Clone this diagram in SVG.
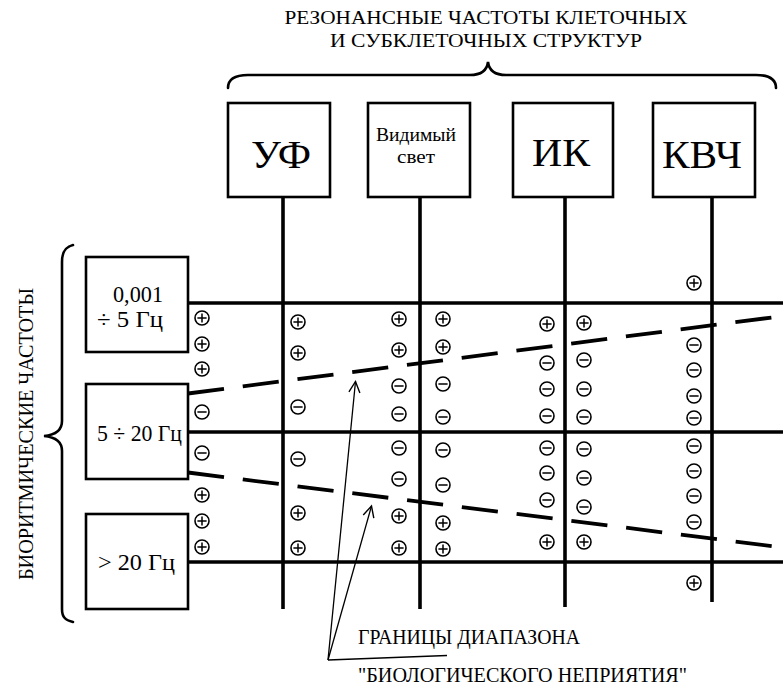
<svg xmlns="http://www.w3.org/2000/svg" xmlns:xlink="http://www.w3.org/1999/xlink" width="783" height="686" viewBox="0 0 783 686">
  <style>
    .txt { font-family: "Liberation Serif", "DejaVu Serif", "Times New Roman", serif; fill: #000; }
    .box { fill: #fff; stroke: #000; stroke-width: 2.6; }
    .brace { fill: none; stroke: #000; stroke-width: 2.6; stroke-linecap: round; }
    .grid { stroke: #000; stroke-width: 3.6; fill: none; }
    .dash { stroke: #000; stroke-width: 3.8; fill: none; stroke-dasharray: 36.3 18.9; }
    .ptr { stroke: #000; stroke-width: 1.3; fill: none; }
    .sym circle { fill: #fff; stroke: #000; stroke-width: 1.6; }
    .sym line { stroke: #000; stroke-width: 1.5; }
  </style>
  <defs>
    <g id="plus" class="sym">
      <circle cx="0" cy="0" r="7"/>
      <line x1="-4.6" y1="0" x2="4.6" y2="0"/>
      <line x1="0" y1="-4.6" x2="0" y2="4.6"/>
    </g>
    <g id="minus" class="sym">
      <circle cx="0" cy="0" r="7"/>
      <line x1="-4.6" y1="0" x2="4.6" y2="0"/>
    </g>
    <marker id="vhead" viewBox="-12 -7 14 14" markerWidth="14" markerHeight="14" refX="0" refY="0" orient="auto" markerUnits="userSpaceOnUse">
      <path d="M -11 -5.5 L 0 0 L -11 5.5" fill="none" stroke="#000" stroke-width="1.4"/>
    </marker>
  </defs>

  <rect width="783" height="686" fill="#fff"/>

  <!-- heading and its brace -->
  <g id="title-resonance">
    <text class="txt" x="486" y="24" font-size="19" text-anchor="middle" textLength="403" lengthAdjust="spacingAndGlyphs">РЕЗОНАНСНЫЕ ЧАСТОТЫ КЛЕТОЧНЫХ</text>
    <text class="txt" x="486" y="47" font-size="19" text-anchor="middle" textLength="312" lengthAdjust="spacingAndGlyphs">И СУБКЛЕТОЧНЫХ СТРУКТУР</text>
    <path class="brace" d="M 228 88 C 228 79, 235 75, 248 75 L 470 75 C 481 75, 487 70, 488 62 C 489 70, 495 75, 506 75 L 756 75 C 769 75, 776 79, 776 88"/>
  </g>

  <!-- side heading and its brace -->
  <g id="title-biorhythm">
    <text class="txt" font-size="20" text-anchor="middle" textLength="292" lengthAdjust="spacingAndGlyphs" transform="translate(33,434) rotate(-90)">БИОРИТМИЧЕСКИЕ ЧАСТОТЫ</text>
    <path class="brace" d="M 73 245 C 65 247, 62 252, 62 262 L 62 421 C 62 431, 55 435, 44 436 C 55 437, 62 441, 62 451 L 62 609 C 62 617, 65 620, 73 622"/>
  </g>

  <!-- grid lines, boundary lines and pointers -->
  <g id="connectors">
    <line class="grid" x1="188" y1="303" x2="783" y2="303"/>
    <line class="grid" x1="188" y1="432" x2="783" y2="432"/>
    <line class="grid" x1="188" y1="562" x2="783" y2="562"/>
    <line class="grid" x1="283" y1="197" x2="283" y2="609"/>
    <line class="grid" x1="420" y1="197" x2="420" y2="609"/>
    <line class="grid" x1="565" y1="197" x2="565" y2="607"/>
    <line class="grid" x1="712" y1="197" x2="712" y2="602"/>
    <line class="dash" x1="188" y1="393.5" x2="783" y2="316"/>
    <line class="dash" x1="188" y1="472.5" x2="783" y2="547.5"/>
    <line class="ptr" x1="328" y1="660" x2="355.5" y2="381.5" marker-end="url(#vhead)"/>
    <line class="ptr" x1="328" y1="660" x2="371.5" y2="506" marker-end="url(#vhead)"/>
    <line class="ptr" x1="328" y1="660" x2="447" y2="655.5"/>
  </g>

  <!-- spectral ranges -->
  <g id="node-uv">
    <rect class="box" x="228" y="103" width="102" height="94"/>
    <text class="txt" x="281" y="168" font-size="40" text-anchor="middle" textLength="60" lengthAdjust="spacingAndGlyphs">УФ</text>
  </g>
  <g id="node-visible">
    <rect class="box" x="368" y="103" width="102" height="94"/>
    <text class="txt" x="416" y="141" font-size="19" text-anchor="middle" textLength="80" lengthAdjust="spacingAndGlyphs">Видимый</text>
    <text class="txt" x="416" y="163" font-size="19" text-anchor="middle" textLength="38" lengthAdjust="spacingAndGlyphs">свет</text>
  </g>
  <g id="node-ir">
    <rect class="box" x="513" y="103" width="100" height="94"/>
    <text class="txt" x="561" y="166" font-size="40" text-anchor="middle" textLength="58" lengthAdjust="spacingAndGlyphs">ИК</text>
  </g>
  <g id="node-ehf">
    <rect class="box" x="653" y="103" width="102" height="94"/>
    <text class="txt" x="702" y="168" font-size="40" text-anchor="middle" textLength="80" lengthAdjust="spacingAndGlyphs">КВЧ</text>
  </g>

  <!-- frequency bands -->
  <g id="node-band-low">
    <rect class="box" x="86" y="257" width="102" height="95"/>
    <text class="txt" x="163" y="302" font-size="24" text-anchor="end" textLength="50" lengthAdjust="spacingAndGlyphs">0,001</text>
    <text class="txt" x="97" y="327" font-size="24" textLength="66" lengthAdjust="spacingAndGlyphs">÷ 5 Гц</text>
  </g>
  <g id="node-band-mid">
    <rect class="box" x="86" y="384" width="102" height="95"/>
    <text class="txt" x="97" y="441" font-size="24" textLength="85" lengthAdjust="spacingAndGlyphs">5 ÷ 20 Гц</text>
  </g>
  <g id="node-band-high">
    <rect class="box" x="86" y="514" width="102" height="95"/>
    <text class="txt" x="98" y="570" font-size="24" textLength="77" lengthAdjust="spacingAndGlyphs">&gt; 20 Гц</text>
  </g>

  <!-- response marks -->
  <g id="marks">
    <use xlink:href="#plus" x="202" y="318"/>
    <use xlink:href="#plus" x="202" y="344"/>
    <use xlink:href="#plus" x="202" y="369"/>
    <use xlink:href="#minus" x="202" y="412"/>
    <use xlink:href="#minus" x="202" y="453"/>
    <use xlink:href="#plus" x="202" y="495"/>
    <use xlink:href="#plus" x="202" y="521"/>
    <use xlink:href="#plus" x="202" y="547"/>

    <use xlink:href="#plus" x="298" y="322"/>
    <use xlink:href="#plus" x="298" y="353"/>
    <use xlink:href="#minus" x="298" y="407"/>
    <use xlink:href="#minus" x="298" y="459"/>
    <use xlink:href="#plus" x="298" y="513"/>
    <use xlink:href="#plus" x="298" y="548"/>

    <use xlink:href="#plus" x="399" y="319"/>
    <use xlink:href="#plus" x="399" y="350"/>
    <use xlink:href="#minus" x="399" y="386"/>
    <use xlink:href="#minus" x="399" y="414"/>
    <use xlink:href="#minus" x="399" y="448"/>
    <use xlink:href="#minus" x="399" y="479"/>
    <use xlink:href="#plus" x="399" y="516"/>
    <use xlink:href="#plus" x="399" y="548"/>

    <use xlink:href="#plus" x="443" y="319"/>
    <use xlink:href="#plus" x="443" y="347"/>
    <use xlink:href="#minus" x="443" y="384"/>
    <use xlink:href="#minus" x="443" y="417"/>
    <use xlink:href="#minus" x="443" y="450"/>
    <use xlink:href="#minus" x="443" y="485"/>
    <use xlink:href="#plus" x="443" y="523"/>
    <use xlink:href="#plus" x="443" y="549"/>

    <use xlink:href="#plus" x="547" y="324"/>
    <use xlink:href="#minus" x="547" y="363"/>
    <use xlink:href="#minus" x="547" y="389"/>
    <use xlink:href="#minus" x="547" y="416"/>
    <use xlink:href="#minus" x="547" y="448"/>
    <use xlink:href="#minus" x="547" y="473"/>
    <use xlink:href="#minus" x="547" y="500"/>
    <use xlink:href="#plus" x="547" y="542"/>

    <use xlink:href="#plus" x="584" y="323"/>
    <use xlink:href="#minus" x="584" y="360"/>
    <use xlink:href="#minus" x="584" y="389"/>
    <use xlink:href="#minus" x="584" y="417"/>
    <use xlink:href="#minus" x="584" y="449"/>
    <use xlink:href="#minus" x="584" y="478"/>
    <use xlink:href="#minus" x="584" y="507"/>
    <use xlink:href="#plus" x="584" y="542"/>

    <use xlink:href="#plus" x="694" y="283"/>
    <use xlink:href="#minus" x="694" y="345"/>
    <use xlink:href="#minus" x="694" y="370"/>
    <use xlink:href="#minus" x="694" y="396"/>
    <use xlink:href="#minus" x="694" y="418"/>
    <use xlink:href="#minus" x="694" y="446"/>
    <use xlink:href="#minus" x="694" y="471"/>
    <use xlink:href="#minus" x="694" y="496"/>
    <use xlink:href="#minus" x="694" y="522"/>
    <use xlink:href="#plus" x="694" y="583"/>
  </g>

  <!-- caption for the boundary lines -->
  <g id="caption">
    <text class="txt" x="358" y="644" font-size="20" textLength="222" lengthAdjust="spacingAndGlyphs">ГРАНИЦЫ ДИАПАЗОНА</text>
    <text class="txt" x="358" y="682" font-size="20" textLength="329" lengthAdjust="spacingAndGlyphs">"БИОЛОГИЧЕСКОГО НЕПРИЯТИЯ"</text>
  </g>
</svg>
